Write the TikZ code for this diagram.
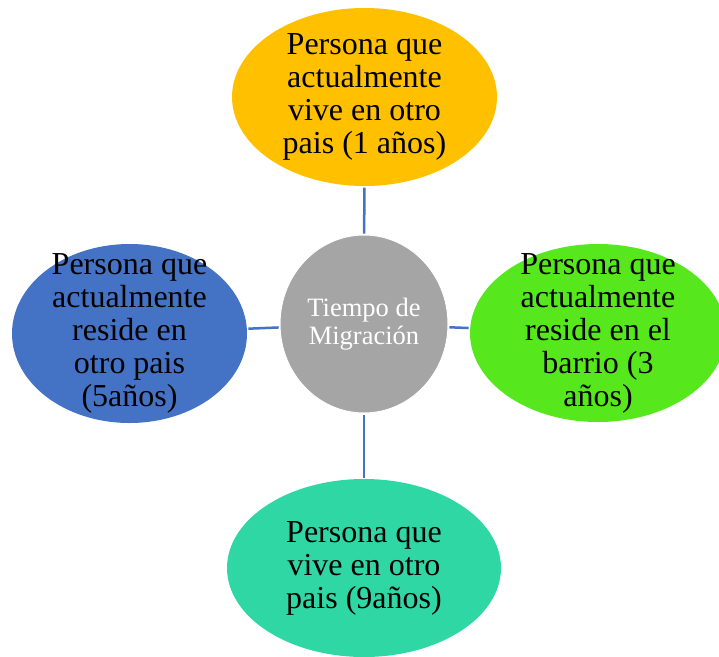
\documentclass[tikz,border=0pt]{standalone}
\usepackage{fontspec}
\setmainfont{Liberation Serif}
\usetikzlibrary{shapes.geometric}
\definecolor{cOrange}{HTML}{FFC000}
\definecolor{cGreen}{HTML}{56E81C}
\definecolor{cBlue}{HTML}{4472C4}
\definecolor{cTeal}{HTML}{2FD7A4}
\definecolor{cGray}{HTML}{A5A5A5}
\tikzset{
  blob/.style={ellipse, inner sep=0pt, outer sep=0pt, draw=none},
  bigtxt/.style={align=center, inner sep=0pt, font=\fontsize{32}{33}\selectfont, text=black},
  midtxt/.style={align=center, inner sep=0pt, font=\fontsize{26.5}{28}\selectfont, text=white},
  link/.style={draw=cBlue, line width=2.5pt, shorten <=1.5pt, shorten >=1.5pt}
}
\begin{document}
\begin{tikzpicture}[x=1pt,y=-1pt]
\useasboundingbox (0,0) rectangle (719,656);
\node[blob, fill=cOrange, minimum width=265pt, minimum height=178pt] (t) at (364.5,97) {};
\node[blob, fill=cGreen, minimum width=256pt, minimum height=178pt] (r) at (598,333) {};
\node[blob, fill=cBlue, minimum width=235pt, minimum height=179pt] (l) at (129.5,333.5) {};
\node[blob, fill=cTeal, minimum width=274pt, minimum height=178pt] (b) at (364,568) {};
\node[blob, fill=cGray, draw=white, line width=1pt, minimum width=168pt, minimum height=178pt] (c) at (364,324) {};
\draw[link] (c) -- (t);
\draw[link] (c) -- (r);
\draw[link] (c) -- (l);
\draw[link] (c) -- (b);
\node[bigtxt] (tt) at (t) {Persona que\\actualmente\\vive en otro\\pais (1 años)};
\node[bigtxt] (rt) at (r) {Persona que\\actualmente\\reside en el\\barrio (3\\años)};
\node[bigtxt] (lt) at (l) {Persona que\\actualmente\\reside en\\otro pais\\(5años)};
\node[bigtxt] (bt) at (b) {Persona que\\vive en otro\\pais (9años)};
\node[midtxt] (ct) at (c) {Tiempo de\\Migración};
\end{tikzpicture}
\end{document}
